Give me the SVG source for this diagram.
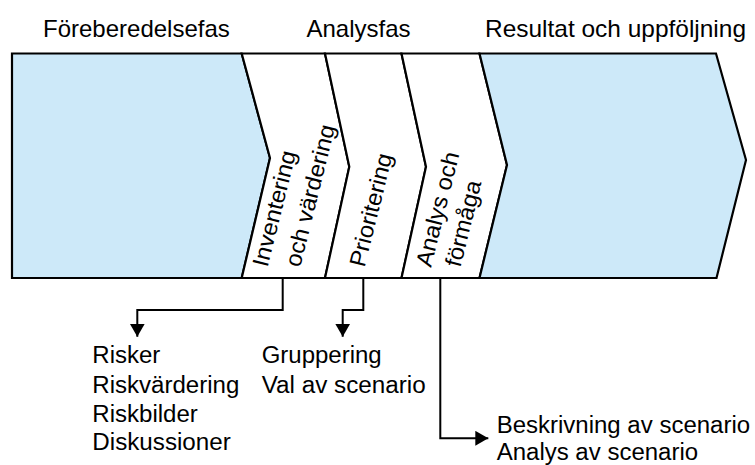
<svg xmlns="http://www.w3.org/2000/svg" width="755" height="465" viewBox="0 0 755 465">
  <style>
    .band { stroke: #000; stroke-width: 2.2; stroke-linejoin: miter; }
    .blue { fill: #cde9f9; }
    .white { fill: #ffffff; }
    .lbl { font-family: "Liberation Sans", Arial, sans-serif; font-size: 24px; fill: #000; }
    .txt { font-family: "Liberation Sans", Arial, sans-serif; font-size: 23px; fill: #000; }
    .conn { fill: none; stroke: #000; stroke-width: 2; }
  </style>
  <defs>
    <marker id="arrow" markerUnits="userSpaceOnUse" markerWidth="15" markerHeight="15" refX="13" refY="7.5" orient="auto">
      <path d="M0,0 L13,7.5 L0,15 Z" fill="#000"/>
    </marker>
  </defs>
  <rect width="755" height="465" fill="#ffffff"/>

  <g id="phase-labels">
    <text class="lbl" x="43" y="37">Föreberedelsefas</text>
    <text class="lbl" x="306.5" y="37">Analysfas</text>
    <text class="lbl" x="485" y="37" textLength="261" lengthAdjust="spacingAndGlyphs">Resultat och uppföljning</text>
  </g>

  <g id="foreberedelse">
    <path class="band blue" d="M12,53.5 H241.7 L270,158 L241.7,278 H12 Z"/>
  </g>
  <g id="inventering">
    <path class="band white" d="M241.7,53.5 H325 L349.3,166.7 L325,278 H241.7 L270,158 Z"/>
    <text class="txt" transform="translate(267.5,268) rotate(-76)" textLength="118.7" lengthAdjust="spacingAndGlyphs">Inventering</text>
    <text class="txt" transform="translate(300,268) rotate(-76)" textLength="145.4" lengthAdjust="spacingAndGlyphs">och värdering</text>
  </g>
  <g id="prioritering">
    <path class="band white" d="M325,53.5 H401.5 L426,166.7 L401.5,278 H325 L349.3,166.7 Z"/>
    <text class="txt" transform="translate(364.5,268) rotate(-76)" textLength="116" lengthAdjust="spacingAndGlyphs">Prioritering</text>
  </g>
  <g id="analys">
    <path class="band white" d="M401.5,53.5 H479.5 L507,165 L479.5,278 H401.5 L426,166.7 Z"/>
    <text class="txt" transform="translate(431,268) rotate(-76)" textLength="117.4" lengthAdjust="spacingAndGlyphs">Analys och</text>
    <text class="txt" transform="translate(460.3,268) rotate(-76)" textLength="88" lengthAdjust="spacingAndGlyphs">förmåga</text>
  </g>
  <g id="resultat">
    <path class="band blue" d="M479.5,53.5 H716 L746,160 L716.5,278 H479.5 L507,165 Z"/>
  </g>

  <g id="connectors">
    <path class="conn" d="M282.7,278 V310 H137.3 V336.7" marker-end="url(#arrow)"/>
    <path class="conn" d="M363.3,278 V310 H342.7 V336.7" marker-end="url(#arrow)"/>
    <path class="conn" d="M440.3,278 V438.3 H488.3" marker-end="url(#arrow)"/>
  </g>

  <g id="list-inventering">
    <text class="txt" x="92.3" y="363" textLength="68" lengthAdjust="spacingAndGlyphs">Risker</text>
    <text class="txt" x="92.3" y="393" textLength="147" lengthAdjust="spacingAndGlyphs">Riskvärdering</text>
    <text class="txt" x="92.3" y="421.7" textLength="105.5" lengthAdjust="spacingAndGlyphs">Riskbilder</text>
    <text class="txt" x="92.3" y="450" textLength="138.5" lengthAdjust="spacingAndGlyphs">Diskussioner</text>
  </g>
  <g id="list-prioritering">
    <text class="txt" x="261.7" y="363" textLength="120" lengthAdjust="spacingAndGlyphs">Gruppering</text>
    <text class="txt" x="261.7" y="393" textLength="164" lengthAdjust="spacingAndGlyphs">Val av scenario</text>
  </g>
  <g id="list-analys">
    <text class="txt" x="496.7" y="433.3" textLength="253.4" lengthAdjust="spacingAndGlyphs">Beskrivning av scenario</text>
    <text class="txt" x="496.7" y="460" textLength="201.4" lengthAdjust="spacingAndGlyphs">Analys av scenario</text>
  </g>
</svg>
